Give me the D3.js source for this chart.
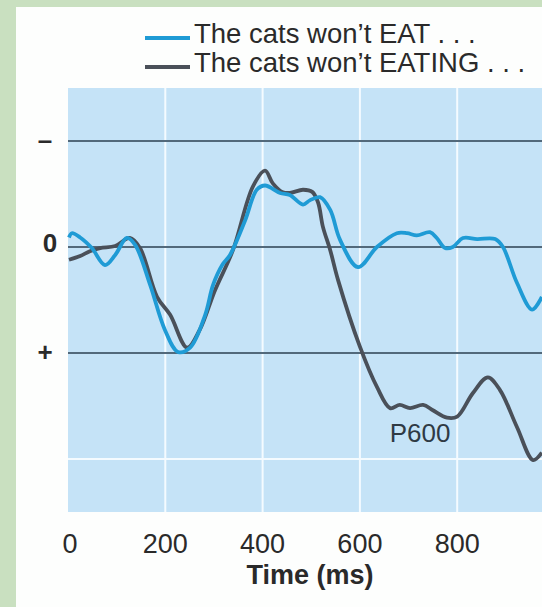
<!DOCTYPE html>
<html>
<head>
<meta charset="utf-8">
<script src="https://cdn.jsdelivr.net/npm/d3@7"></script>
<style>
  html, body { margin: 0; padding: 0; background: #c9e0c0; }
  svg { display: block; }
</style>
</head>
<body>
<svg width="542" height="607"></svg>
<script>
// series: "The cats won't EAT . . ." (blue) and "... EATING . . ." (dark)
var seriesNames = ["The cats won\u2019t EAT . . .", "The cats won\u2019t EATING . . ."];

var eatTimes  = [2, 8, 25, 49, 76, 97, 121, 138, 169, 199, 226, 251, 282, 298, 317, 333, 364, 388, 405, 436, 456, 483, 497, 518, 539, 559, 596, 635, 676, 697, 717, 744, 758, 775, 791, 812, 841, 878, 894, 923, 954, 974];
var eatValues = [-0.09, -0.13, -0.09, 0.01, 0.17, 0.075, -0.085, -0.02, 0.36, 0.78, 0.99, 0.95, 0.64, 0.36, 0.17, 0.075, -0.25, -0.54, -0.58, -0.51, -0.49, -0.40, -0.44, -0.47, -0.35, -0.07, 0.19, 0, -0.13, -0.13, -0.11, -0.14, -0.085, 0.01, 0, -0.085, -0.075, -0.075, 0, 0.34, 0.59, 0.47];

var eatingTimes  = [2, 25, 45, 66, 97, 127, 148, 183, 210, 245, 271, 302, 339, 380, 405, 421, 440, 456, 483, 502, 514, 524, 539, 555, 600, 635, 662, 682, 703, 730, 750, 779, 800, 832, 863, 888, 923, 956, 974];
var eatingValues = [0.12, 0.085, 0.04, 0.01, -0.01, -0.085, 0.01, 0.47, 0.64, 0.95, 0.78, 0.41, 0.03, -0.57, -0.72, -0.60, -0.52, -0.51, -0.54, -0.52, -0.42, -0.19, 0.03, 0.31, 0.94, 1.32, 1.52, 1.49, 1.52, 1.49, 1.54, 1.61, 1.60, 1.38, 1.23, 1.35, 1.70, 2.01, 1.94];

var xTicks = [0, 200, 400, 600, 800];
var yTicks = [-1, 0, 1];
var yTickLabels = ["\u2013", "0", "+"];

var font = "Liberation Sans, Arial, sans-serif";
var svg = d3.select("svg");

// green frame + white panel
svg.append("rect").attr("x", 0).attr("y", 0).attr("width", 542).attr("height", 607).attr("fill", "#c9e0c0");
svg.append("rect").attr("x", 16).attr("y", 7).attr("width", 540).attr("height", 610).attr("fill", "#fdfefd");

var xScale = d3.scaleLinear().domain([0, 1000]).range([68, 554.5]);
var yScale = d3.scaleLinear().domain([-1.5, 2.5]).range([88, 512]);

var g = svg.append("g");

g.append("rect")
  .attr("x", xScale(0)).attr("y", yScale(-1.5))
  .attr("width", xScale(1000) - xScale(0))
  .attr("height", yScale(2.5) - yScale(-1.5))
  .attr("fill", "#c5e3f7");

// white vertical grid
g.selectAll(".vgrid").data(xTicks.slice(1)).enter().append("line")
  .attr("x1", function(d){ return xScale(d); }).attr("x2", function(d){ return xScale(d); })
  .attr("y1", yScale(-1.5)).attr("y2", yScale(2.5))
  .attr("stroke", "#f4fbff").attr("stroke-width", 2);

// white horizontal line at +2
g.append("line")
  .attr("x1", xScale(0)).attr("x2", 542)
  .attr("y1", yScale(2)).attr("y2", yScale(2))
  .attr("stroke", "#f4fbff").attr("stroke-width", 2);

// dark horizontal lines
g.selectAll(".hgrid").data(yTicks).enter().append("line")
  .attr("x1", xScale(0)).attr("x2", 542)
  .attr("y1", function(d){ return yScale(d); }).attr("y2", function(d){ return yScale(d); })
  .attr("stroke", "#52697b").attr("stroke-width", 2);

var line = d3.line()
  .x(function(d){ return xScale(d[0]); })
  .y(function(d){ return yScale(d[1]); })
  .curve(d3.curveCatmullRom.alpha(0.5));

var eatData = d3.zip(eatTimes, eatValues);
var eatingData = d3.zip(eatingTimes, eatingValues);

g.append("path").datum(eatingData)
  .attr("d", line).attr("fill", "none")
  .attr("stroke", "#4a5059").attr("stroke-width", 3.8).attr("stroke-linejoin", "round");

g.append("path").datum(eatData)
  .attr("d", line).attr("fill", "none")
  .attr("stroke", "#1f9bd5").attr("stroke-width", 3.8).attr("stroke-linejoin", "round");

// P600 label
g.append("text").attr("x", 420).attr("y", 442)
  .attr("text-anchor", "middle")
  .style("font-family", font).style("font-size", "26px")
  .attr("fill", "#2f3a44").text("P600");

// x tick labels
g.selectAll(".xlab").data(xTicks).enter().append("text")
  .attr("x", function(d){ return xScale(d) + (d === 0 ? 2 : 0); }).attr("y", 553)
  .attr("text-anchor", "middle")
  .style("font-family", font).style("font-size", "27px")
  .attr("fill", "#2a2a2a").text(function(d){ return d; });

svg.append("text").attr("x", 310).attr("y", 584)
  .attr("text-anchor", "middle")
  .style("font-family", font).style("font-size", "27px").style("font-weight", "bold")
  .attr("fill", "#2a2a2a").text("Time (ms)");

// y tick labels
g.selectAll(".ylab").data(yTicks).enter().append("text")
  .attr("x", function(d, i){ return i === 1 ? 50 : 45; })
  .attr("y", function(d){ return yScale(d) + (d === 0 ? 5 : 8); })
  .attr("text-anchor", "middle")
  .style("font-family", font).style("font-size", "26px").style("font-weight", "bold")
  .attr("fill", "#2a2a2a").text(function(d, i){ return yTickLabels[i]; });

// legend
var legendColors = ["#1f9bd5", "#4a5059"];
var lg = svg.append("g").selectAll(".leg").data(seriesNames).enter().append("g")
  .attr("transform", function(d, i){ return "translate(0," + (43 + i * 29) + ")"; });
lg.append("line").attr("x1", 145).attr("x2", 190).attr("y1", -5).attr("y2", -5)
  .attr("stroke", function(d, i){ return legendColors[i]; }).attr("stroke-width", 4);
lg.append("text").attr("x", 194).attr("y", 0)
  .style("font-family", font).style("font-size", "27.5px")
  .attr("fill", "#2a2a2a").text(function(d){ return d; });
</script>
</body>
</html>
